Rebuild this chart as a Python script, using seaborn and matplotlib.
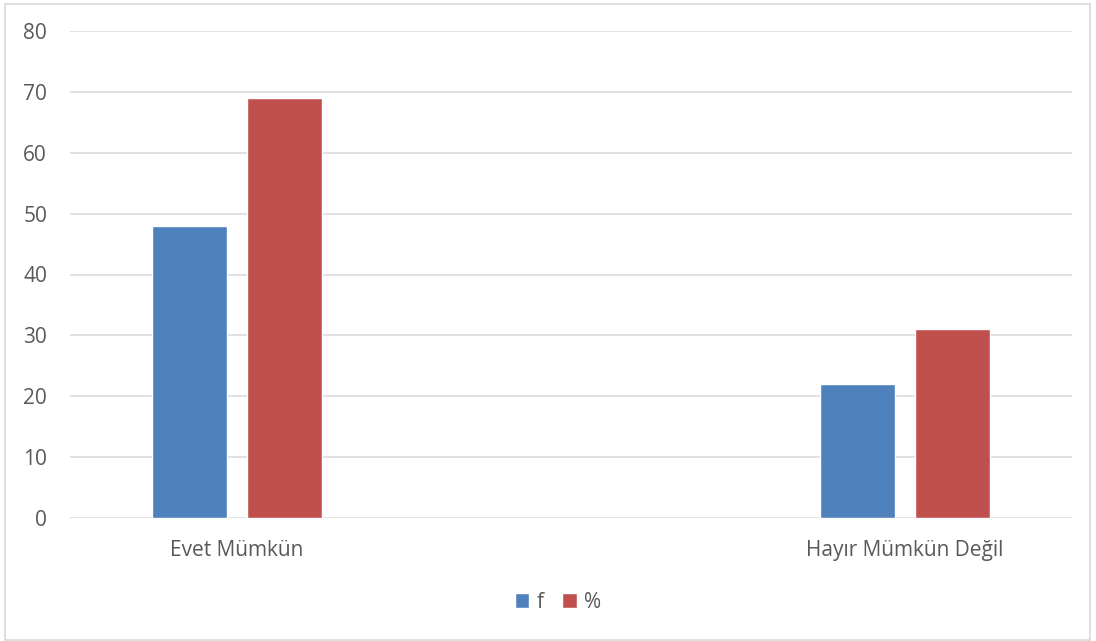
import matplotlib
matplotlib.use("Agg")
import matplotlib.pyplot as plt
import seaborn as sns
import pandas as pd
from matplotlib.patches import Rectangle

categories = ["Evet Mümkün", "Hayır Mümkün Değil"]
series_names = ["f", "%"]
f_values = [48, 22]
pct_values = [69, 31]
yticks = [0, 10, 20, 30, 40, 50, 60, 70, 80]

df = pd.DataFrame({
    "cat": categories * 2,
    "series": [series_names[0]] * 2 + [series_names[1]] * 2,
    "value": f_values + pct_values,
})

sns.set_theme(style="white")
plt.rcParams['font.family'] = ['Open Sans', 'DejaVu Sans']

fig = plt.figure(figsize=(10.96, 6.41), dpi=100)
ax = fig.add_axes([70/1096, 1-518/641, (1072-70)/1096, (518-31)/641])

sns.barplot(data=df, x="cat", y="value", hue="series", order=categories,
            hue_order=series_names, palette=["#4F81BD", "#C0504D"],
            width=0.2844, gap=0.21, saturation=1, ax=ax, zorder=3)

ax.set_xlim(-0.25, 1.25)
ax.set_ylim(0, 80)
ax.set_yticks(yticks)
ax.set_yticklabels([str(t) for t in yticks])
ax.grid(axis="y", color="#D9D9D9", linewidth=1.1, zorder=0)
ax.set_axisbelow(True)
for s in ax.spines.values():
    s.set_visible(False)
ax.set_xlabel("")
ax.set_ylabel("")
ax.tick_params(axis="y", length=0, pad=16.5, labelsize=15, labelcolor="#595959")
ax.tick_params(axis="x", length=0, pad=16, labelsize=15, labelcolor="#595959")

leg = ax.legend(loc="center", bbox_to_anchor=(558/1096, 1-602/641),
                bbox_transform=fig.transFigure, ncol=2, frameon=False,
                fontsize=15, handlelength=0.7, handleheight=0.7,
                handletextpad=0.35, columnspacing=0.9, labelcolor="#595959")

fig.patches.append(Rectangle((5/1096, 1-640/641), 1085/1096, 636/641,
                             transform=fig.transFigure, fill=False,
                             edgecolor="#D9D9D9", linewidth=1.2))

fig.savefig("out.png", dpi=100)
